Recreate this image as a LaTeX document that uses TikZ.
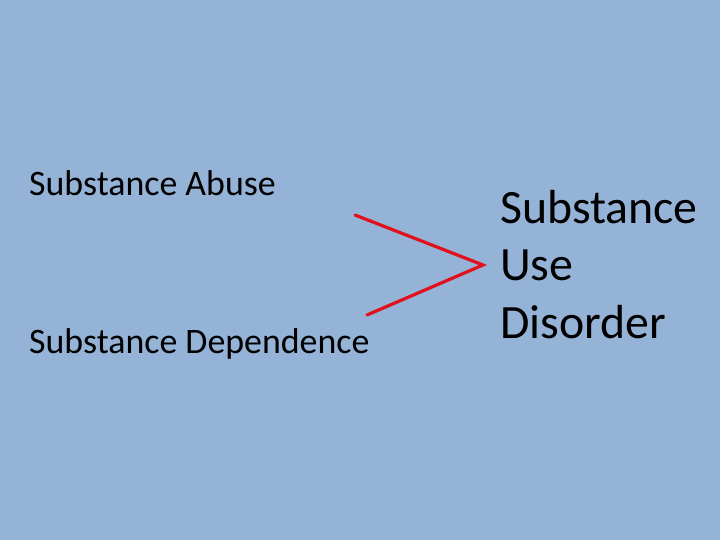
\documentclass[tikz,border=0pt]{standalone}
\usepackage{fontspec}
\setmainfont{Carlito}
\definecolor{bgblue}{HTML}{95B3D7}
\definecolor{linered}{HTML}{E2101C}
\begin{document}
\begin{tikzpicture}[x=1bp,y=-1bp,
  small/.style={anchor=base west,inner sep=0pt,font=\fontsize{36}{40}\selectfont},
  big/.style={anchor=base west,inner sep=0pt,font=\fontsize{48}{57}\selectfont},
  redline/.style={draw=linered,line width=3.2bp,line cap=round}]
\fill[bgblue] (0,0) rectangle (720,540);
\useasboundingbox (0,0) rectangle (720,540);
\node[small] (abuse) at (29,196) {Substance Abuse};
\node[small] (dep) at (29,353) {Substance Dependence};
\node[big] (s1) at (500,224) {Substance};
\node[big] (s2) at (500,281) {Use};
\node[big] (s3) at (500,338) {Disorder};
\coordinate (a) at (355,215);
\coordinate (tip) at (483,265);
\coordinate (b) at (367,315);
\draw[redline] (a) -- (tip) -- (b);
\end{tikzpicture}
\end{document}
